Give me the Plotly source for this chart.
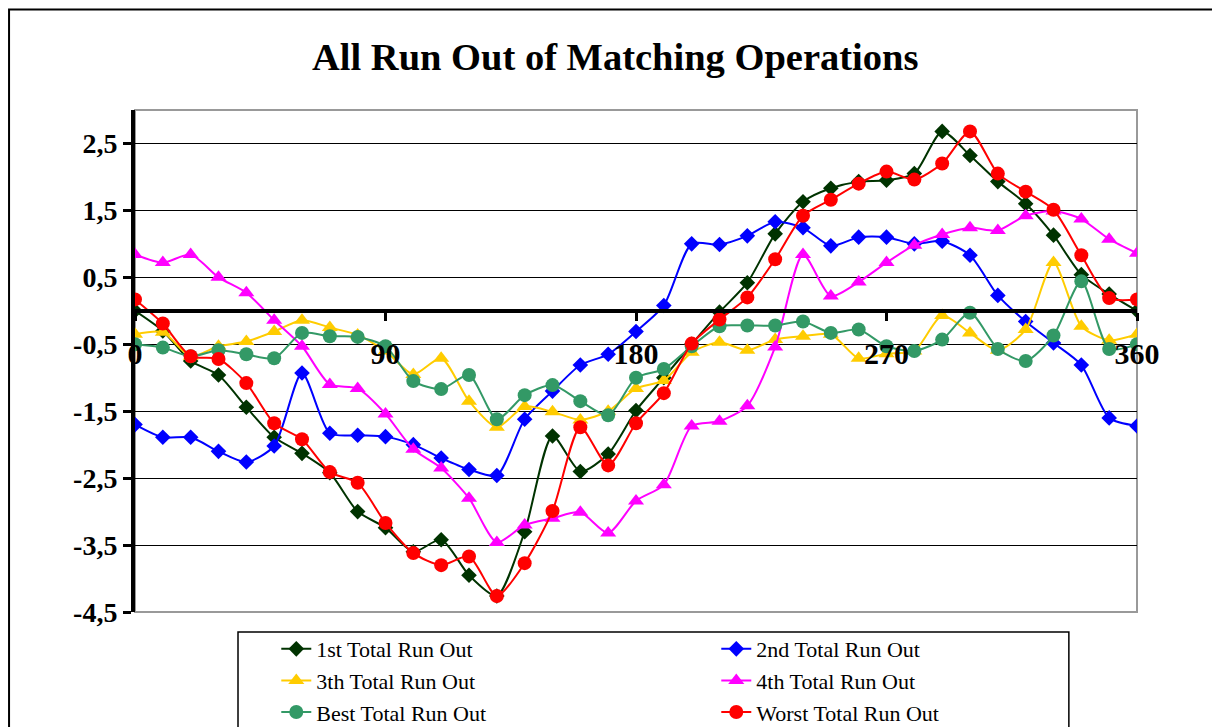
import plotly.graph_objects as go

# angle in degrees, one point every 10 degrees
angles = list(range(0, 361, 10))

first_run = [0.0, -0.3, -0.75, -0.96, -1.44, -1.89, -2.13, -2.42, -3.0, -3.24,
             -3.6, -3.42, -3.95, -4.26, -3.3, -1.87, -2.4, -2.14, -1.49, -1.0,
             -0.5, -0.02, 0.42, 1.15, 1.63, 1.83, 1.93, 1.95, 2.05, 2.68,
             2.32, 1.93, 1.6, 1.13, 0.54, 0.25, 0.0]
second_run = [-1.7, -1.89, -1.89, -2.1, -2.26, -2.02, -0.93, -1.83, -1.86, -1.88,
              -2.0, -2.2, -2.37, -2.46, -1.62, -1.2, -0.81, -0.65, -0.31, 0.08,
              1.0, 0.99, 1.12, 1.33, 1.24, 0.97, 1.1, 1.1, 1.0, 1.04,
              0.83, 0.23, -0.16, -0.48, -0.81, -1.6, -1.72]
third_run = [-0.35, -0.32, -0.68, -0.53, -0.46, -0.31, -0.14, -0.25, -0.36, -0.6,
             -0.95, -0.71, -1.35, -1.74, -1.43, -1.51, -1.63, -1.5, -1.16, -1.04,
             -0.62, -0.47, -0.59, -0.43, -0.38, -0.35, -0.71, -0.64, -0.6, -0.07,
             -0.33, -0.59, -0.28, 0.72, -0.23, -0.44, -0.35]
fourth_run = [0.84, 0.72, 0.84, 0.5, 0.27, -0.14, -0.53, -1.1, -1.16, -1.54,
              -2.07, -2.35, -2.8, -3.46, -3.2, -3.1, -3.01, -3.32, -2.84, -2.6,
              -1.72, -1.65, -1.42, -0.54, 0.84, 0.22, 0.43, 0.72, 0.98, 1.14,
              1.24, 1.2, 1.42, 1.49, 1.37, 1.07, 0.86]
best_run = [-0.5, -0.55, -0.68, -0.59, -0.65, -0.71, -0.33, -0.38, -0.39, -0.53,
            -1.05, -1.17, -0.96, -1.62, -1.26, -1.11, -1.35, -1.56, -1.0, -0.87,
            -0.53, -0.23, -0.22, -0.22, -0.16, -0.33, -0.28, -0.53, -0.6, -0.43,
            -0.03, -0.57, -0.75, -0.37, 0.44, -0.57, -0.5]
worst_run = [0.17, -0.19, -0.68, -0.72, -1.08, -1.68, -1.92, -2.41, -2.57, -3.17,
             -3.62, -3.8, -3.67, -4.26, -3.77, -2.99, -1.74, -2.31, -1.68, -1.23,
             -0.49, -0.13, 0.2, 0.77, 1.42, 1.66, 1.9, 2.08, 1.96, 2.2,
             2.68, 2.05, 1.78, 1.51, 0.83, 0.19, 0.17]

x_ticks = [0, 90, 180, 270, 360]
y_ticks = [-4.5, -3.5, -2.5, -1.5, -0.5, 0.5, 1.5, 2.5]
y_tick_labels = ["-4,5", "-3,5", "-2,5", "-1,5", "-0,5", "0,5", "1,5", "2,5"]

SERIF = "Liberation Serif"

series = [
    ("1st Total Run Out", first_run, "#003300", "diamond", 12),
    ("2nd Total Run Out", second_run, "#0000FF", "diamond", 12),
    ("3th Total Run Out", third_run, "#FFCC00", "triangle-up", 14),
    ("4th Total Run Out", fourth_run, "#FF00FF", "triangle-up", 14),
    ("Best Total Run Out", best_run, "#339966", "circle", 14),
    ("Worst Total Run Out", worst_run, "#FF0000", "circle", 14),
]

fig = go.Figure()
for name, vals, color, symbol, size in series:
    fig.add_trace(go.Scatter(
        x=angles, y=vals, name=name, mode="lines+markers",
        line=dict(color=color, width=2, shape="spline", smoothing=0.7),
        marker=dict(color=color, symbol=symbol, size=size),
    ))

# the page adds an 8px body margin, so the figure is a bit smaller than the window
fig.update_layout(
    width=1212, height=719,
    paper_bgcolor="white", plot_bgcolor="white",
    margin=dict(l=127, r=83, t=102, b=115, autoexpand=False),
    font=dict(family=SERIF, color="black"),
    title=dict(text="<b>All Run Out of Matching Operations</b>",
               x=0.501, xanchor="center", y=0.932, yanchor="middle",
               font=dict(size=38.5, family=SERIF, color="black")),
    xaxis=dict(range=[0, 360], anchor="free", position=0.6,
               tickvals=x_ticks, ticks="outside", ticklen=8, tickwidth=3,
               tickcolor="black", showline=True, linecolor="black", linewidth=4,
               showgrid=False, zeroline=False, automargin=False,
               ticklabelstandoff=7,
               tickfont=dict(size=30, family=SERIF, color="black", weight="bold")),
    yaxis=dict(range=[-4.5, 3.0], tickvals=y_ticks, ticktext=y_tick_labels,
               ticks="outside", ticklen=8, tickwidth=3, tickcolor="black",
               showline=True, linecolor="black", linewidth=4,
               showgrid=True, gridcolor="black", gridwidth=1, zeroline=False,
               automargin=False,
               tickfont=dict(size=28, family=SERIF, color="black", weight="bold")),
    legend=dict(orientation="h", x=0.141, y=-0.032, xanchor="left", yanchor="top",
                entrywidth=395, entrywidthmode="pixels",
                bgcolor="rgba(0,0,0,0)", borderwidth=0,
                font=dict(size=22, family=SERIF, color="black")),
    shapes=[
        # gray frame of the plot area
        dict(type="rect", xref="paper", yref="paper", x0=0, y0=0, x1=1, y1=1,
             line=dict(color="#999999", width=2), layer="below"),
        # outer chart frame
        dict(type="rect", xref="paper", yref="paper", x0=-0.1257, y0=-0.4,
             x1=1.2, y1=1.2, line=dict(color="black", width=2)),
        # legend box
        dict(type="rect", xref="paper", yref="paper", x0=0.1028, y0=-0.4,
             x1=0.932, y1=-0.04, line=dict(color="black", width=1.5)),
    ],
)

fig.write_html("out.html")
